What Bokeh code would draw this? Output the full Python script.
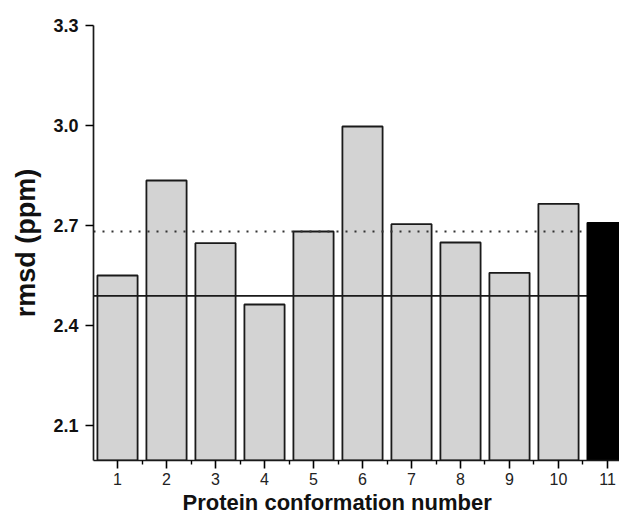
from bokeh.plotting import figure
from bokeh.models import Range1d, FixedTicker, Title, PrintfTickFormatter
from bokeh.embed import file_html
from bokeh.resources import INLINE

# data
conformations = [1, 2, 3, 4, 5, 6, 7, 8, 9, 10, 11]
rmsd = [2.55, 2.835, 2.647, 2.463, 2.682, 2.997, 2.704, 2.649, 2.558, 2.765, 2.708]
bar_colors = ["#d3d3d3"] * 10 + ["#000000"]
solid_level = 2.489
dotted_level = 2.682
y_ticks = [2.1, 2.4, 2.7, 3.0, 3.3]
x_ticks = conformations
x_minor = [i + 0.5 for i in range(0, 11)]

X0, X1 = 0.51, 11.245
Y0, Y1 = 1.995, 3.3
FONT = "Liberation Sans"

p = figure(width=619, height=514, output_backend="svg", toolbar_location=None,
           x_range=Range1d(X0, X1), y_range=Range1d(Y0, Y1),
           min_border_left=93, min_border_right=0, min_border_top=25, min_border_bottom=20)
p.outline_line_color = None
p.xgrid.visible = False
p.ygrid.visible = False

grey_x = conformations[:10]
grey_y = rmsd[:10]
p.vbar(x=grey_x, top=grey_y, bottom=Y0, width=0.82, fill_color=bar_colors[:10],
       line_color="#1a1a1a", line_width=1.8)

p.line([X0, X1], [solid_level, solid_level], line_color="#1a1a1a", line_width=1.7)
p.line([X0, X1], [dotted_level, dotted_level], line_color="#333333", line_width=1.9,
       line_dash="2 7")

p.vbar(x=conformations[10:], top=rmsd[10:], bottom=Y0, width=0.82,
       fill_color=bar_colors[10:], line_color="#000000", line_width=1.8)

# y axis
ya = p.yaxis[0]
ya.ticker = FixedTicker(ticks=y_ticks)
ya.formatter = PrintfTickFormatter(format="%.1f")
ya.major_label_text_font = FONT
ya.major_label_text_font_style = "bold"
ya.major_label_text_font_size = "18px"
ya.major_label_text_color = "#111111"
ya.major_tick_out = 8
ya.major_tick_in = 0
ya.minor_tick_out = 0
ya.minor_tick_in = 0
ya.axis_line_width = 1.7
ya.major_tick_line_width = 1.6
ya.axis_line_color = "#1a1a1a"
ya.axis_label = "rmsd (ppm)"
ya.axis_label_text_font = FONT
ya.axis_label_text_font_style = "bold"
ya.axis_label_text_font_size = "27px"
ya.axis_label_text_color = "#111111"
ya.axis_label_standoff = 9
ya.major_label_standoff = 7

# x axis
xa = p.xaxis[0]
xa.ticker = FixedTicker(ticks=x_ticks, minor_ticks=x_minor)
xa.major_label_text_font = FONT
xa.major_label_text_font_size = "16px"
xa.major_label_text_color = "#222222"
xa.major_tick_out = 8
xa.major_tick_in = 0
xa.minor_tick_out = 4
xa.minor_tick_in = 0
xa.axis_line_width = 1.7
xa.major_tick_line_width = 1.6
xa.minor_tick_line_width = 1.4
xa.axis_line_color = "#1a1a1a"
xa.major_label_standoff = 4

p.add_layout(Title(text="Protein conformation number", align="left", offset=89,
                   text_font=FONT, text_font_style="bold", text_font_size="22px",
                   text_color="#111111", standoff=0), "below")

open("out.html", "w").write(file_html(p, INLINE))
